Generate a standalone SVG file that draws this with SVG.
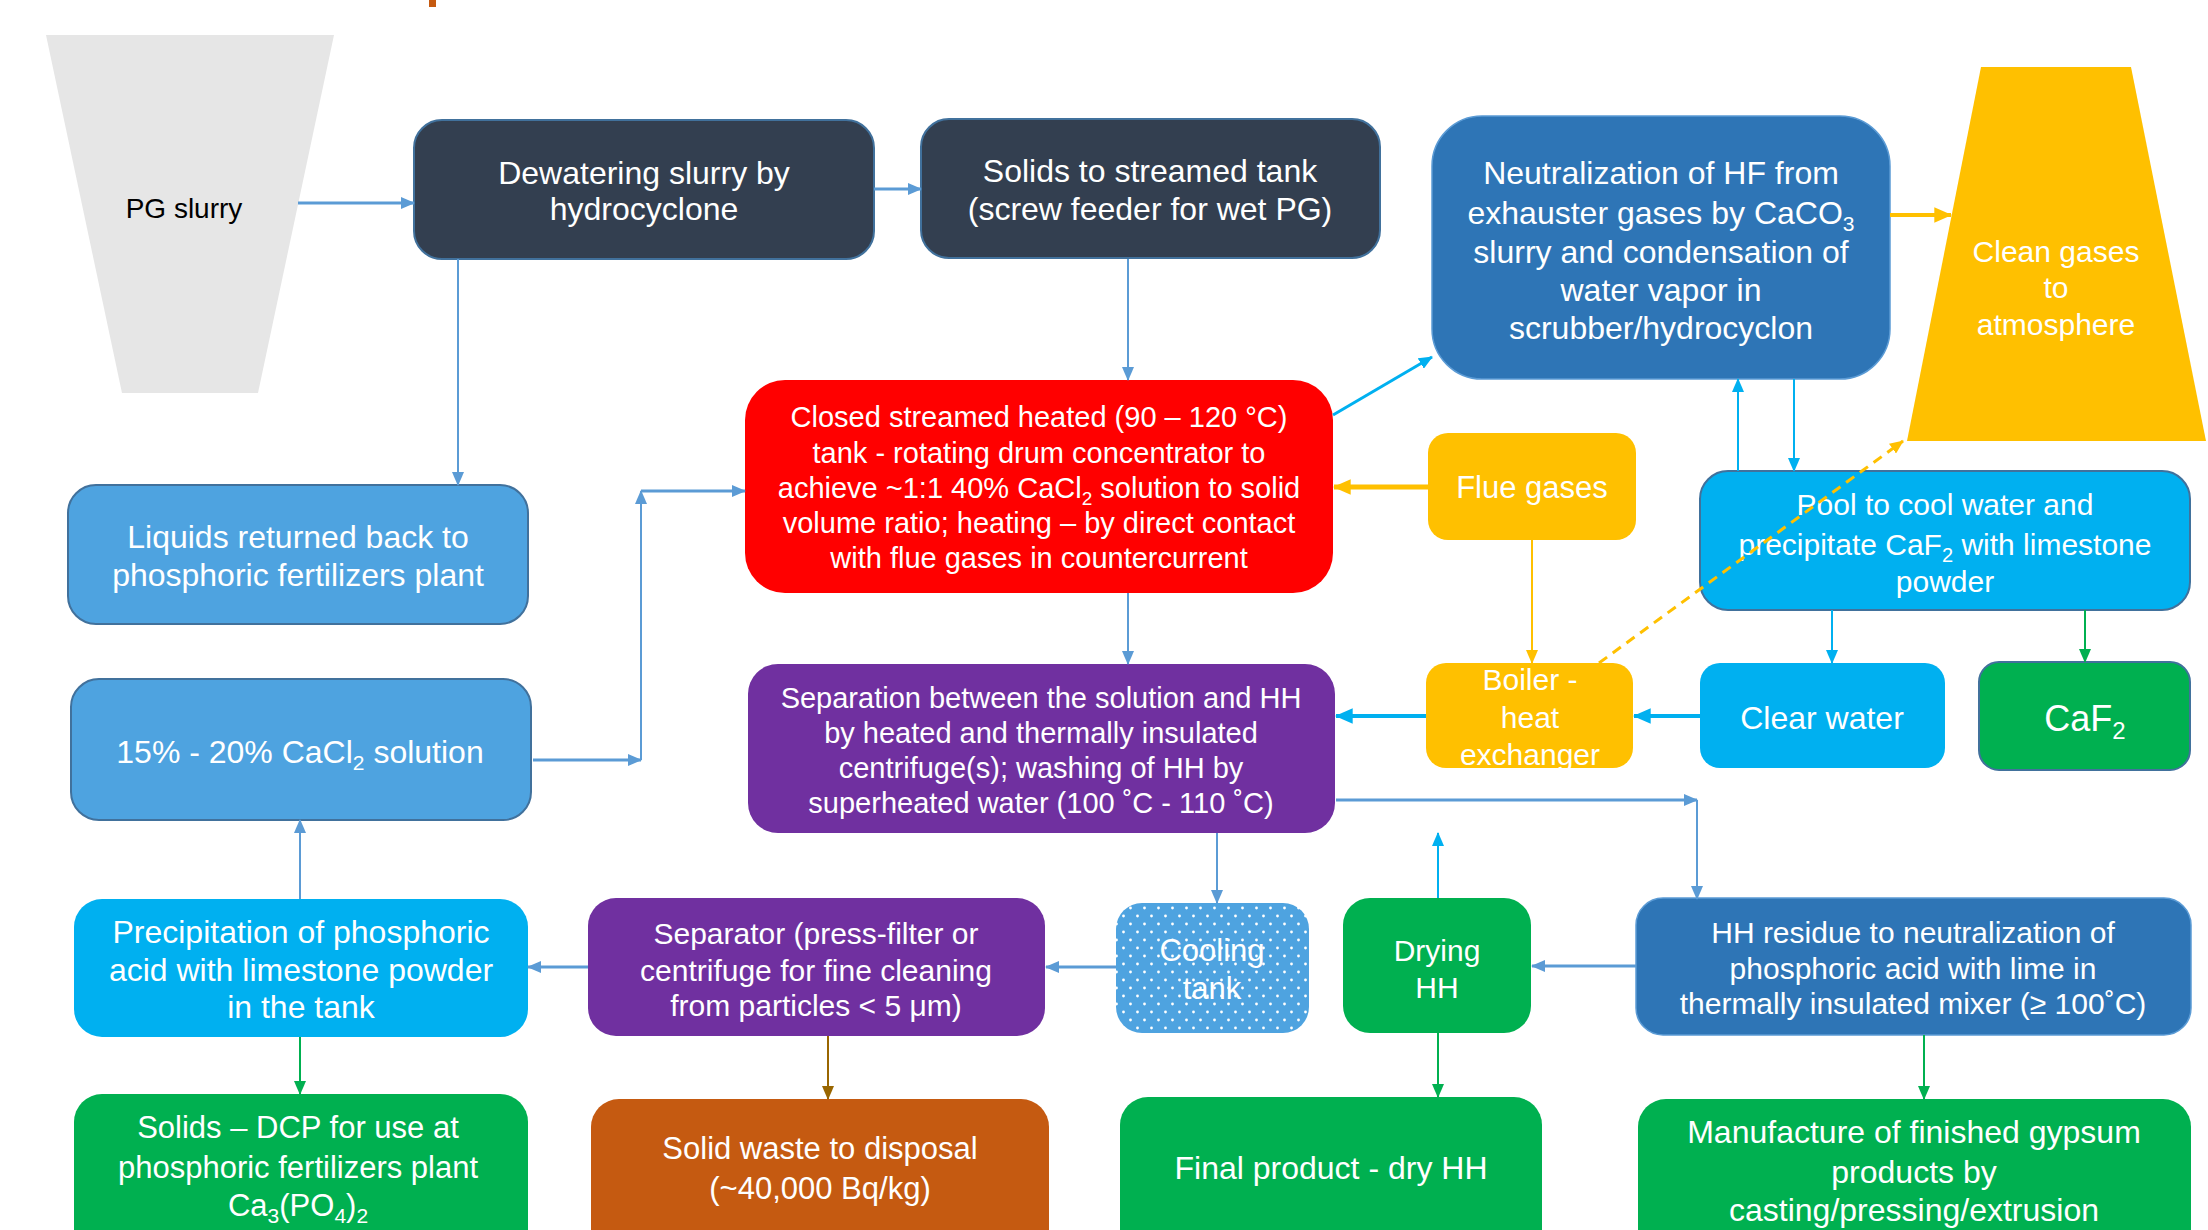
<svg xmlns="http://www.w3.org/2000/svg" width="2208" height="1230" viewBox="0 0 2208 1230">
<style>
.t{font-family:"Liberation Sans",Arial,sans-serif;fill:#fff;text-anchor:middle}
.k{fill:#000}
.c{fill:none}
.bl{stroke:#5B9BD5}
.cy{stroke:#00B0F0}
.gr{stroke:#00B050}
.or{stroke:#FFC000}
.br{stroke:#996600}
.bd{stroke:#41719C;stroke-width:2}
</style>
<defs>
<marker id="ab" viewBox="0 0 14 12" refX="13" refY="6" markerWidth="14" markerHeight="12" markerUnits="userSpaceOnUse" orient="auto"><path d="M0,0L14,6L0,12z" fill="#5B9BD5"/></marker>
<marker id="ac" viewBox="0 0 14 12" refX="13" refY="6" markerWidth="14" markerHeight="12" markerUnits="userSpaceOnUse" orient="auto"><path d="M0,0L14,6L0,12z" fill="#00B0F0"/></marker>
<marker id="ac2" viewBox="0 0 14 12" refX="13" refY="6" markerWidth="18" markerHeight="16" markerUnits="userSpaceOnUse" orient="auto"><path d="M0,0L14,6L0,12z" fill="#00B0F0"/></marker>
<marker id="ag" viewBox="0 0 14 12" refX="13" refY="6" markerWidth="14" markerHeight="12" markerUnits="userSpaceOnUse" orient="auto"><path d="M0,0L14,6L0,12z" fill="#00B050"/></marker>
<marker id="ao" viewBox="0 0 14 12" refX="13" refY="6" markerWidth="14" markerHeight="12" markerUnits="userSpaceOnUse" orient="auto"><path d="M0,0L14,6L0,12z" fill="#FFC000"/></marker>
<marker id="ao2" viewBox="0 0 14 12" refX="13" refY="6" markerWidth="18" markerHeight="16" markerUnits="userSpaceOnUse" orient="auto"><path d="M0,0L14,6L0,12z" fill="#FFC000"/></marker>
<marker id="an" viewBox="0 0 14 12" refX="13" refY="6" markerWidth="14" markerHeight="12" markerUnits="userSpaceOnUse" orient="auto"><path d="M0,0L14,6L0,12z" fill="#996600"/></marker>
<pattern id="dots" width="14" height="16" patternUnits="userSpaceOnUse"><rect width="14" height="16" fill="#4EA3E0"/><circle cx="3.5" cy="4" r="1.4" fill="#fff"/><circle cx="10.5" cy="12" r="1.4" fill="#fff"/></pattern>
</defs>
<rect width="2208" height="1230" fill="#fff"/>
<rect x="429" y="0" width="7" height="7" fill="#C55A11"/>

<g id="pg-slurry">
<polygon points="46,35 334,35 258,393 122,393" fill="#E6E6E6"/>
<text class="t k" x="184" y="218" font-size="28">PG slurry</text>
</g>

<g id="dewatering">
<rect class="bd" x="414" y="120" width="460" height="139" rx="28" fill="#333F50"/>
<text class="t" font-size="32"><tspan x="644" y="184">Dewatering slurry by</tspan><tspan x="644" y="220">hydrocyclone</tspan></text>
</g>

<g id="solids-tank">
<rect class="bd" x="921" y="119" width="459" height="139" rx="28" fill="#333F50"/>
<text class="t" font-size="32"><tspan x="1150" y="182">Solids to streamed tank</tspan><tspan x="1150" y="220">(screw feeder for wet PG)</tspan></text>
</g>

<g id="neutralization">
<rect x="1432" y="116" width="458" height="263" rx="50" fill="#2E75B6" stroke="#5B9BD5" stroke-width="1.5"/>
<text class="t" font-size="32"><tspan x="1661" y="184">Neutralization of HF from</tspan><tspan x="1661" y="224">exhauster gases by CaCO<tspan font-size="21" dy="7">3</tspan></tspan><tspan x="1661" y="263">slurry and condensation of</tspan><tspan x="1661" y="301">water vapor in</tspan><tspan x="1661" y="339">scrubber/hydrocyclon</tspan></text>
</g>

<g id="clean-gases">
<polygon points="1981,67 2131,67 2206,441 1907,441" fill="#FFC000"/>
<text class="t" font-size="30"><tspan x="2056" y="262">Clean gases</tspan><tspan x="2056" y="298">to</tspan><tspan x="2056" y="335">atmosphere</tspan></text>
</g>

<g id="closed-tank">
<rect x="745" y="380" width="588" height="213" rx="40" fill="#FF0000"/>
<text class="t" font-size="29"><tspan x="1039" y="427">Closed streamed heated (90 – 120 °C)</tspan><tspan x="1039" y="463">tank - rotating drum concentrator to</tspan><tspan x="1039" y="498">achieve ~1:1 40% CaCl<tspan font-size="19" dy="7">2</tspan><tspan dy="-7"> solution to solid</tspan></tspan><tspan x="1039" y="533">volume ratio; heating – by direct contact</tspan><tspan x="1039" y="568">with flue gases in countercurrent</tspan></text>
</g>

<g id="flue-gases">
<rect x="1428" y="433" width="208" height="107" rx="20" fill="#FFC000"/>
<text class="t" font-size="31" x="1532" y="498">Flue gases</text>
</g>

<g id="boiler">
<rect x="1426" y="663" width="207" height="105" rx="20" fill="#FFC000"/>
<text class="t" font-size="30"><tspan x="1530" y="690">Boiler -</tspan><tspan x="1530" y="728">heat</tspan><tspan x="1530" y="765">exchanger</tspan></text>
</g>

<g id="pool">
<rect class="bd" x="1700" y="471" width="490" height="139" rx="28" fill="#00B0F0"/>
<text class="t" font-size="30"><tspan x="1945" y="515">Pool to cool water and</tspan><tspan x="1945" y="555">precipitate CaF<tspan font-size="20" dy="7">2</tspan><tspan dy="-7"> with limestone</tspan></tspan><tspan x="1945" y="592">powder</tspan></text>
</g>

<g id="clear-water">
<rect x="1700" y="663" width="245" height="105" rx="20" fill="#00B0F0"/>
<text class="t" font-size="32" x="1822" y="729">Clear water</text>
</g>

<g id="caf2">
<rect class="bd" x="1979" y="662" width="211" height="108" rx="20" fill="#00B050"/>
<text class="t" font-size="36" x="2085" y="731">CaF<tspan font-size="24" dy="8">2</tspan></text>
</g>

<g id="separation">
<rect x="748" y="664" width="587" height="169" rx="30" fill="#7030A0"/>
<text class="t" font-size="29"><tspan x="1041" y="708">Separation between the solution and HH</tspan><tspan x="1041" y="743">by heated and thermally insulated</tspan><tspan x="1041" y="778">centrifuge(s); washing of HH by</tspan><tspan x="1041" y="813">superheated water (100 ˚C - 110 ˚C)</tspan></text>
</g>

<g id="liquids-returned">
<rect class="bd" x="68" y="485" width="460" height="139" rx="28" fill="#4EA3E0"/>
<text class="t" font-size="32"><tspan x="298" y="548">Liquids returned back to</tspan><tspan x="298" y="586">phosphoric fertilizers plant</tspan></text>
</g>

<g id="cacl2-solution">
<rect class="bd" x="71" y="679" width="460" height="141" rx="28" fill="#4EA3E0"/>
<text class="t" font-size="32" x="300" y="763">15% - 20% CaCl<tspan font-size="21" dy="7">2</tspan><tspan dy="-7"> solution</tspan></text>
</g>

<g id="precipitation">
<rect x="74" y="899" width="454" height="138" rx="28" fill="#00B0F0"/>
<text class="t" font-size="32"><tspan x="301" y="943">Precipitation of phosphoric</tspan><tspan x="301" y="981">acid with limestone powder</tspan><tspan x="301" y="1018">in the tank</tspan></text>
</g>

<g id="separator">
<rect x="588" y="898" width="457" height="138" rx="28" fill="#7030A0"/>
<text class="t" font-size="30"><tspan x="816" y="944">Separator (press-filter or</tspan><tspan x="816" y="981">centrifuge for fine cleaning</tspan><tspan x="816" y="1016">from particles &lt; 5 μm)</tspan></text>
</g>

<g id="cooling-tank">
<rect x="1116" y="903" width="193" height="130" rx="26" fill="url(#dots)"/>
<text class="t" font-size="31"><tspan x="1212" y="961">Cooling</tspan><tspan x="1212" y="999">tank</tspan></text>
</g>

<g id="drying">
<rect x="1343" y="898" width="188" height="135" rx="27" fill="#00B050"/>
<text class="t" font-size="30"><tspan x="1437" y="961">Drying</tspan><tspan x="1437" y="998">HH</tspan></text>
</g>

<g id="hh-residue">
<rect x="1636" y="898" width="555" height="137" rx="27" fill="#2E75B6" stroke="#5B9BD5" stroke-width="1.5"/>
<text class="t" font-size="30"><tspan x="1913" y="943">HH residue to neutralization of</tspan><tspan x="1913" y="979">phosphoric acid with lime in</tspan><tspan x="1913" y="1014">thermally insulated mixer (≥ 100˚C)</tspan></text>
</g>

<g id="solids-dcp">
<rect x="74" y="1094" width="454" height="170" rx="28" fill="#00B050"/>
<text class="t" font-size="31"><tspan x="298" y="1138">Solids – DCP for use at</tspan><tspan x="298" y="1178">phosphoric fertilizers plant</tspan><tspan x="298" y="1216">Ca<tspan font-size="21" dy="7">3</tspan><tspan dy="-7">(PO</tspan><tspan font-size="21" dy="7">4</tspan><tspan dy="-7">)</tspan><tspan font-size="21" dy="7">2</tspan></tspan></text>
</g>

<g id="solid-waste">
<rect x="591" y="1099" width="458" height="170" rx="28" fill="#C55A11"/>
<text class="t" font-size="31"><tspan x="820" y="1159">Solid waste to disposal</tspan><tspan x="820" y="1199">(~40,000 Bq/kg)</tspan></text>
</g>

<g id="final-product">
<rect x="1120" y="1097" width="422" height="170" rx="28" fill="#00B050"/>
<text class="t" font-size="32" x="1331" y="1179">Final product - dry HH</text>
</g>

<g id="manufacture">
<rect x="1638" y="1099" width="553" height="170" rx="28" fill="#00B050"/>
<text class="t" font-size="32"><tspan x="1914" y="1143">Manufacture of finished gypsum</tspan><tspan x="1914" y="1183">products by</tspan><tspan x="1914" y="1221">casting/pressing/extrusion</tspan></text>
</g>

<g id="connectors" class="c">
<line class="bl" stroke-width="3" x1="298" y1="203" x2="414" y2="203" marker-end="url(#ab)"/>
<line class="bl" stroke-width="3" x1="874" y1="189" x2="921" y2="189" marker-end="url(#ab)"/>
<line class="bl" stroke-width="2" x1="1128" y1="259" x2="1128" y2="380" marker-end="url(#ab)"/>
<line class="bl" stroke-width="2" x1="458" y1="259" x2="458" y2="485" marker-end="url(#ab)"/>
<line class="cy" stroke-width="3" x1="1333" y1="415" x2="1432" y2="357" marker-end="url(#ac)"/>
<line class="or" stroke-width="4" x1="1890" y1="215" x2="1951" y2="215" marker-end="url(#ao2)"/>
<line class="or" stroke-width="5" x1="1428" y1="487" x2="1334" y2="487" marker-end="url(#ao2)"/>
<line class="or" stroke-width="2" x1="1532" y1="540" x2="1532" y2="663" marker-end="url(#ao)"/>
<line class="or" stroke-width="3" stroke-dasharray="10,7" x1="1599" y1="663" x2="1903" y2="441" marker-end="url(#ao)"/>
<line class="cy" stroke-width="2" x1="1738" y1="471" x2="1738" y2="379" marker-end="url(#ac)"/>
<line class="cy" stroke-width="2" x1="1794" y1="379" x2="1794" y2="471" marker-end="url(#ac)"/>
<line class="cy" stroke-width="2" x1="1832" y1="610" x2="1832" y2="663" marker-end="url(#ac)"/>
<line class="gr" stroke-width="2" x1="2085" y1="610" x2="2085" y2="662" marker-end="url(#ag)"/>
<line class="cy" stroke-width="4" x1="1700" y1="716" x2="1634" y2="716" marker-end="url(#ac2)"/>
<line class="cy" stroke-width="4" x1="1426" y1="716" x2="1336" y2="716" marker-end="url(#ac2)"/>
<line class="bl" stroke-width="2" x1="1128" y1="593" x2="1128" y2="664" marker-end="url(#ab)"/>
<line class="bl" stroke-width="3" x1="1336" y1="800" x2="1697" y2="800" marker-end="url(#ab)"/>
<line class="bl" stroke-width="2" x1="1697" y1="800" x2="1697" y2="899" marker-end="url(#ab)"/>
<line class="bl" stroke-width="2" x1="1217" y1="833" x2="1217" y2="903" marker-end="url(#ab)"/>
<line class="cy" stroke-width="2" x1="1438" y1="898" x2="1438" y2="833" marker-end="url(#ac)"/>
<line class="bl" stroke-width="3" x1="1636" y1="966" x2="1532" y2="966" marker-end="url(#ab)"/>
<line class="gr" stroke-width="2" x1="1438" y1="1033" x2="1438" y2="1097" marker-end="url(#ag)"/>
<line class="gr" stroke-width="2" x1="1924" y1="1035" x2="1924" y2="1099" marker-end="url(#ag)"/>
<line class="bl" stroke-width="3" x1="1116" y1="967" x2="1046" y2="967" marker-end="url(#ab)"/>
<line class="bl" stroke-width="3" x1="588" y1="967" x2="528" y2="967" marker-end="url(#ab)"/>
<line class="br" stroke-width="2" x1="828" y1="1036" x2="828" y2="1099" marker-end="url(#an)"/>
<line class="bl" stroke-width="2" x1="300" y1="899" x2="300" y2="820" marker-end="url(#ab)"/>
<line class="gr" stroke-width="2" x1="300" y1="1037" x2="300" y2="1094" marker-end="url(#ag)"/>
<line class="bl" stroke-width="3" x1="533" y1="760" x2="641" y2="760" marker-end="url(#ab)"/>
<line class="bl" stroke-width="2" x1="641" y1="760" x2="641" y2="491" marker-end="url(#ab)"/>
<line class="bl" stroke-width="3" x1="641" y1="491" x2="745" y2="491" marker-end="url(#ab)"/>
</g>
</svg>
